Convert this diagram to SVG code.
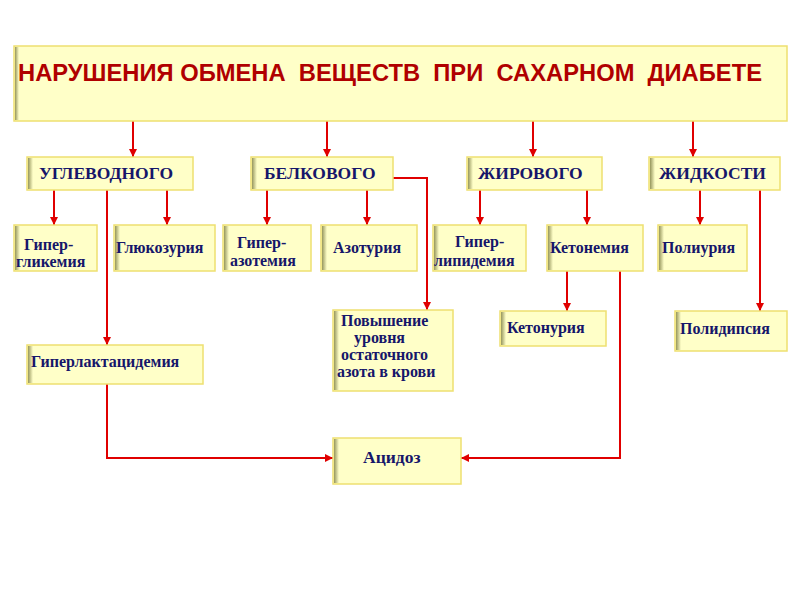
<svg xmlns="http://www.w3.org/2000/svg" width="800" height="600" viewBox="0 0 800 600">
<defs>
<linearGradient id="shL" x1="0" y1="0" x2="1" y2="0">
<stop offset="0" stop-color="#8a8a50" stop-opacity="0.9"/>
<stop offset="1" stop-color="#8a8a50" stop-opacity="0"/>
</linearGradient>
<marker id="ah" viewBox="0 0 10 10" refX="10" refY="5" markerWidth="4" markerHeight="4" orient="auto" markerUnits="strokeWidth">
<path d="M0,0 L10,5 L0,10 Z" fill="#E00000"/>
</marker>
</defs>
<style>
.box{fill:#FFFFC8;stroke:#EEE070;stroke-width:1.5}
.t{font-family:"Liberation Serif","Times New Roman",serif;font-weight:bold;fill:#16166A;font-size:16px}
.h{font-size:17.5px}
.title{font-family:"Liberation Sans",Arial,sans-serif;font-weight:bold;fill:#B00000;font-size:24px;white-space:pre}
.c{fill:none;stroke:#E00000;stroke-width:2}
.a{marker-end:url(#ah)}
</style>
<rect width="800" height="600" fill="#ffffff"/>

<g id="connectors">
<path class="c a" d="M133,121 V157"/>
<path class="c a" d="M327,121 V157"/>
<path class="c a" d="M533,121 V157"/>
<path class="c a" d="M693,121 V157"/>
<path class="c a" d="M54,190 V225"/>
<path class="c a" d="M167,190 V225"/>
<path class="c a" d="M107,190 V345"/>
<path class="c a" d="M267,190 V225"/>
<path class="c a" d="M367,190 V225"/>
<path class="c a" d="M393,178 H427 V310"/>
<path class="c a" d="M480,190 V225"/>
<path class="c a" d="M587,190 V225"/>
<path class="c a" d="M700,190 V225"/>
<path class="c a" d="M760,190 V311"/>
<path class="c a" d="M567,271 V311"/>
<path class="c a" d="M620,271 V458 H461"/>
<path class="c a" d="M107,384 V458 H333"/>
</g>

<g id="title">
<rect class="box" x="14" y="46" width="773" height="75"/>
<rect x="15" y="47" width="4" height="73" fill="url(#shL)"/>
<text class="title" x="18" y="81" textLength="744" lengthAdjust="spacingAndGlyphs">НАРУШЕНИЯ ОБМЕНА  ВЕЩЕСТВ  ПРИ  САХАРНОМ  ДИАБЕТЕ</text>
</g>

<g id="n-uglevod">
<rect class="box" x="27" y="157" width="166" height="33"/>
<rect x="28" y="158" width="5" height="31" fill="url(#shL)"/>
<text class="t h" x="39" y="179">УГЛЕВОДНОГО</text>
</g>
<g id="n-belk">
<rect class="box" x="251" y="157" width="142" height="33"/>
<rect x="252" y="158" width="5" height="31" fill="url(#shL)"/>
<text class="t h" x="264" y="179">БЕЛКОВОГО</text>
</g>
<g id="n-zhir">
<rect class="box" x="467" y="157" width="135" height="33"/>
<rect x="468" y="158" width="5" height="31" fill="url(#shL)"/>
<text class="t h" x="478" y="179">ЖИРОВОГО</text>
</g>
<g id="n-zhid">
<rect class="box" x="649" y="157" width="131" height="33"/>
<rect x="650" y="158" width="5" height="31" fill="url(#shL)"/>
<text class="t h" x="659" y="179">ЖИДКОСТИ</text>
</g>

<g id="n-giperglik">
<rect class="box" x="14" y="225" width="83" height="46"/>
<rect x="15" y="226" width="5" height="44" fill="url(#shL)"/>
<text class="t" x="24" y="250">Гипер-</text>
<text class="t" x="16" y="267">гликемия</text>
</g>
<g id="n-glukoz">
<rect class="box" x="114" y="225" width="101" height="46"/>
<rect x="115" y="226" width="5" height="44" fill="url(#shL)"/>
<text class="t" x="116" y="253">Глюкозурия</text>
</g>
<g id="n-giperazot">
<rect class="box" x="223" y="225" width="88" height="46"/>
<rect x="224" y="226" width="5" height="44" fill="url(#shL)"/>
<text class="t" x="237" y="248">Гипер-</text>
<text class="t" x="230" y="266">азотемия</text>
</g>
<g id="n-azotur">
<rect class="box" x="321" y="225" width="96" height="46"/>
<rect x="322" y="226" width="5" height="44" fill="url(#shL)"/>
<text class="t" x="333" y="253">Азотурия</text>
</g>
<g id="n-giperlip">
<rect class="box" x="433" y="225" width="93" height="46"/>
<rect x="434" y="226" width="5" height="44" fill="url(#shL)"/>
<text class="t" x="455" y="247">Гипер-</text>
<text class="t" x="434" y="266">липидемия</text>
</g>
<g id="n-ketonem">
<rect class="box" x="547" y="225" width="96" height="46"/>
<rect x="548" y="226" width="5" height="44" fill="url(#shL)"/>
<text class="t" x="550" y="253">Кетонемия</text>
</g>
<g id="n-poliur">
<rect class="box" x="658" y="225" width="89" height="46"/>
<rect x="659" y="226" width="5" height="44" fill="url(#shL)"/>
<text class="t" x="662" y="253">Полиурия</text>
</g>

<g id="n-ketonur">
<rect class="box" x="500" y="311" width="106" height="35"/>
<rect x="501" y="312" width="5" height="33" fill="url(#shL)"/>
<text class="t" x="507" y="333">Кетонурия</text>
</g>
<g id="n-polidip">
<rect class="box" x="675" y="311" width="112" height="40"/>
<rect x="676" y="312" width="5" height="38" fill="url(#shL)"/>
<text class="t" x="680" y="334">Полидипсия</text>
</g>
<g id="n-povysh">
<rect class="box" x="333" y="310" width="120" height="81"/>
<rect x="334" y="311" width="5" height="79" fill="url(#shL)"/>
<text class="t" x="341" y="326">Повышение</text>
<text class="t" x="354" y="343">уровня</text>
<text class="t" x="341" y="360">остаточного</text>
<text class="t" x="337" y="377">азота в крови</text>
</g>
<g id="n-giperlakt">
<rect class="box" x="27" y="345" width="176" height="39"/>
<rect x="28" y="346" width="5" height="37" fill="url(#shL)"/>
<text class="t" x="31" y="367">Гиперлактацидемия</text>
</g>
<g id="n-acidoz">
<rect class="box" x="333" y="438" width="128" height="46"/>
<rect x="334" y="439" width="5" height="44" fill="url(#shL)"/>
<text class="t h" x="363" y="463">Ацидоз</text>
</g>
</svg>
